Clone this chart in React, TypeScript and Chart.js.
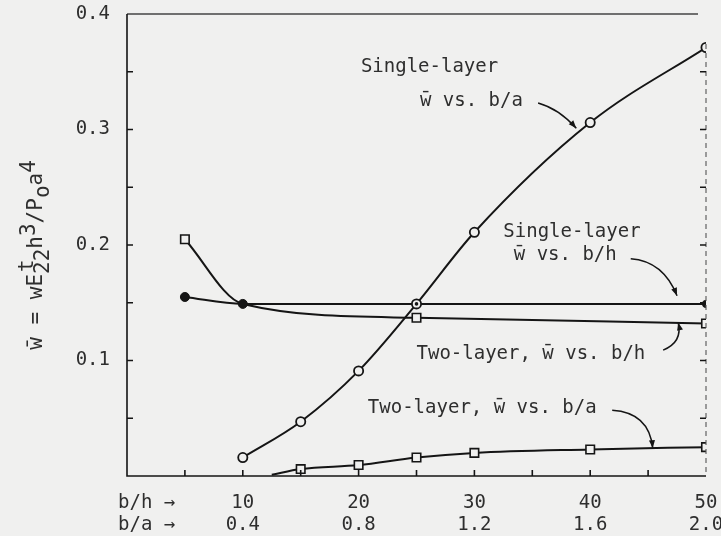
import React, { useEffect, useRef } from 'react';
import { Chart, registerables } from 'chart.js';

Chart.register(...registerables);

// ---- data ----
const singleBA_x = [10, 15, 20, 25, 30, 40, 50];
const singleBA_y = [0.016, 0.047, 0.091, 0.149, 0.211, 0.306, 0.371];

const singleBH_x = [5, 10, 25, 50];
const singleBH_y = [0.155, 0.149, 0.149, 0.149];

const twoBH_x = [5, 10, 25, 50];
const twoBH_y = [0.205, 0.149, 0.137, 0.132];

const twoBA_x = [12.5, 15, 20, 25, 30, 40, 50];
const twoBA_y = [0.001, 0.006, 0.0095, 0.016, 0.02, 0.023, 0.025];

const bhTickLabels = ['10', '20', '30', '40', '50'];
const baTickLabels = ['0.4', '0.8', '1.2', '1.6', '2.0'];
const yTickLabels = ['0.1', '0.2', '0.3', '0.4'];

const noteTexts = ['Single-layer', 'w\u0304 vs. b/a', 'Single-layer', 'w\u0304 vs. b/h', 'Two-layer, w\u0304 vs. b/h', 'Two-layer, w\u0304 vs. b/a'];
const noteX = [20.2, 25.3, 32.5, 33.4, 25.0, 20.8];
const noteY = [0.354, 0.325, 0.211, 0.191, 0.106, 0.059];

// arrows: start, control, tip (data units)
const arrowStart = [[35.5, 0.323], [43.5, 0.188], [46.3, 0.109], [41.9, 0.057]];
const arrowCtrl = [[37.3, 0.318], [46.3, 0.186], [48.0, 0.116], [45.1, 0.055]];
const arrowTip = [[38.8, 0.301], [47.5, 0.156], [47.6, 0.133], [45.4, 0.024]];

const BG = '#f0f0ef';
const INK = '#151515';
const TXT = '#2e2e2e';
const FONT = '"DejaVu Sans Mono", "Liberation Mono", monospace';
const FS = 19;

const toPts = (xs: number[], ys: number[]) => xs.map((x, i) => ({ x, y: ys[i] }));

const framePlugin = {
  id: 'frame',
  beforeDraw(chart: any) {
    const { ctx, width, height } = chart;
    ctx.save();
    ctx.fillStyle = BG;
    ctx.fillRect(0, 0, width, height);
    ctx.restore();
  },
  afterDraw(chart: any) {
    const { ctx, chartArea: a, scales } = chart;
    const xs = scales.x;
    const ys = scales.y;
    ctx.save();
    // top (light)
    ctx.strokeStyle = '#444';
    ctx.lineWidth = 1.3;
    ctx.beginPath();
    ctx.moveTo(a.left, a.top);
    ctx.lineTo(a.right - 8, a.top);
    ctx.stroke();
    // left, bottom solid
    ctx.strokeStyle = INK;
    ctx.lineWidth = 1.6;
    ctx.beginPath();
    ctx.moveTo(a.left, a.top);
    ctx.lineTo(a.left, a.bottom);
    ctx.lineTo(a.right, a.bottom);
    ctx.stroke();
    // right dashed
    ctx.save();
    ctx.strokeStyle = '#555';
    ctx.lineWidth = 1.1;
    ctx.setLineDash([5, 4]);
    ctx.beginPath();
    ctx.moveTo(a.right, a.top + 30);
    ctx.lineTo(a.right, a.bottom);
    ctx.stroke();
    ctx.restore();
    // inward ticks
    ctx.lineWidth = 1.6;
    ys.ticks.forEach((t: any) => {
      const v = Math.round(t.value * 100);
      if (v <= 0 || v >= 40) return;
      const py = ys.getPixelForValue(t.value);
      ctx.beginPath();
      ctx.moveTo(a.left, py);
      ctx.lineTo(a.left + 6, py);
      ctx.moveTo(a.right, py);
      ctx.lineTo(a.right - 6, py);
      ctx.stroke();
    });
    xs.ticks.forEach((t: any) => {
      if (t.value <= 0 || t.value >= 50) return;
      const px = xs.getPixelForValue(t.value);
      ctx.beginPath();
      ctx.moveTo(px, a.bottom);
      ctx.lineTo(px, a.bottom - 6);
      ctx.stroke();
    });

    // dot inside shared circle (single-layer b/a at b/h = 25)
    const meta = chart.getDatasetMeta(0);
    const el = meta.data[3];
    if (el) {
      ctx.fillStyle = INK;
      ctx.beginPath();
      ctx.arc(el.x, el.y, 1.8, 0, Math.PI * 2);
      ctx.fill();
    }

    // axis row captions
    ctx.fillStyle = TXT;
    ctx.font = `${FS}px ${FONT}`;
    ctx.textAlign = 'left';
    ctx.textBaseline = 'middle';
    const lh = FS * 1.15;
    const row1 = a.bottom + 16 + lh * 0.5;
    ctx.fillText('b/h \u2192', a.left - 9, row1);
    ctx.fillText('b/a \u2192', a.left - 9, row1 + lh);

    // annotations
    noteTexts.forEach((t, i) => {
      ctx.fillText(t, xs.getPixelForValue(noteX[i]), ys.getPixelForValue(noteY[i]));
    });

    // arrows
    ctx.strokeStyle = INK;
    ctx.fillStyle = INK;
    ctx.lineWidth = 1.5;
    arrowStart.forEach((s, i) => {
      const sx = xs.getPixelForValue(s[0]);
      const sy = ys.getPixelForValue(s[1]);
      const cx = xs.getPixelForValue(arrowCtrl[i][0]);
      const cy = ys.getPixelForValue(arrowCtrl[i][1]);
      const tx = xs.getPixelForValue(arrowTip[i][0]);
      const ty = ys.getPixelForValue(arrowTip[i][1]);
      ctx.beginPath();
      ctx.moveTo(sx, sy);
      ctx.quadraticCurveTo(cx, cy, tx, ty);
      ctx.stroke();
      const ang = Math.atan2(ty - cy, tx - cx);
      const L = 8, W = 3;
      ctx.beginPath();
      ctx.moveTo(tx, ty);
      ctx.lineTo(tx - L * Math.cos(ang) + W * Math.sin(ang), ty - L * Math.sin(ang) - W * Math.cos(ang));
      ctx.lineTo(tx - L * Math.cos(ang) - W * Math.sin(ang), ty - L * Math.sin(ang) + W * Math.cos(ang));
      ctx.closePath();
      ctx.fill();
    });

    // y-axis title (rotated, typewriter-style half-line sub/superscripts)
    const tf = `21px ${FONT}`;
    type Piece = { t: string; dv: number; stackSup?: string };
    const pieces: Piece[] = [
      { t: 'w\u0304 = wE', dv: 0 },
      { t: '22', dv: 7, stackSup: 't' },
      { t: 'h', dv: 0 },
      { t: '3', dv: -7 },
      { t: '/P', dv: 0 },
      { t: 'o', dv: 7 },
      { t: 'a', dv: 0 },
      { t: '4', dv: -7 },
    ];
    ctx.font = tf;
    let total = 0;
    const widths = pieces.map((p) => {
      const w = ctx.measureText(p.t).width;
      total += w;
      return w;
    });
    const cxT = 37;
    const cyT = 255;
    ctx.save();
    ctx.translate(cxT, cyT);
    ctx.rotate(-Math.PI / 2);
    ctx.fillStyle = TXT;
    ctx.textBaseline = 'middle';
    ctx.textAlign = 'left';
    let u = -total / 2;
    pieces.forEach((p, i) => {
      ctx.fillText(p.t, u, p.dv);
      if (p.stackSup) ctx.fillText(p.stackSup, u + 2, -9);
      u += widths[i];
    });
    ctx.restore();

    ctx.restore();
  },
};

export default function App() {
  const ref = useRef<HTMLCanvasElement | null>(null);

  useEffect(() => {
    if (!ref.current) return;
    const openBg = BG;
    const chart = new Chart(ref.current, {
      type: 'line',
      data: {
        datasets: [
          {
            label: 'Single-layer, w vs. b/a',
            data: toPts(singleBA_x, singleBA_y),
            borderColor: INK,
            borderWidth: 2,
            cubicInterpolationMode: 'monotone',
            pointStyle: 'circle',
            pointRadius: 4.6,
            pointBorderWidth: 1.8,
            pointBorderColor: INK,
            pointBackgroundColor: openBg,
            fill: false,
          },
          {
            label: 'Single-layer, w vs. b/h',
            data: toPts(singleBH_x, singleBH_y),
            borderColor: INK,
            borderWidth: 2,
            cubicInterpolationMode: 'monotone',
            pointStyle: 'circle',
            pointRadius: [4.5, 4.5, 0, 3.6],
            pointBorderWidth: 1,
            pointBorderColor: INK,
            pointBackgroundColor: INK,
            fill: false,
          },
          {
            label: 'Two-layer, w vs. b/h',
            data: toPts(twoBH_x, twoBH_y),
            borderColor: INK,
            borderWidth: 2,
            cubicInterpolationMode: 'monotone',
            pointStyle: 'rect',
            pointRadius: [6, 0, 6, 6],
            pointBorderWidth: 1.6,
            pointBorderColor: INK,
            pointBackgroundColor: openBg,
            fill: false,
          },
          {
            label: 'Two-layer, w vs. b/a',
            data: toPts(twoBA_x, twoBA_y),
            borderColor: INK,
            borderWidth: 2,
            cubicInterpolationMode: 'monotone',
            pointStyle: 'rect',
            pointRadius: [0, 6, 6, 6, 6, 6, 6],
            pointBorderWidth: 1.6,
            pointBorderColor: INK,
            pointBackgroundColor: openBg,
            fill: false,
          },
        ],
      },
      options: {
        animation: false,
        responsive: true,
        maintainAspectRatio: false,
        layout: { padding: { top: 14, left: 0, right: 0, bottom: 0 } },
        plugins: { legend: { display: false }, tooltip: { enabled: false } },
        scales: {
          x: {
            type: 'linear',
            min: 0,
            max: 50,
            grid: { display: false, drawTicks: false },
            border: { display: false },
            ticks: {
              stepSize: 5,
              autoSkip: false,
              maxRotation: 0,
              padding: 16,
              color: TXT,
              font: { family: FONT, size: FS, lineHeight: 1.15 },
              callback: (v: any) => {
                const i = bhTickLabels.indexOf(String(Math.round(Number(v))));
                if (Math.round(Number(v)) % 10 !== 0 || i < 0) return '';
                return [bhTickLabels[i], baTickLabels[i]];
              },
            },
            afterFit: (s: any) => {
              s.height = 60;
              s.paddingLeft = 0;
              s.paddingRight = 0;
            },
          },
          y: {
            type: 'linear',
            min: 0,
            max: 0.4,
            grid: { display: false, drawTicks: false },
            border: { display: false },
            ticks: {
              stepSize: 0.05,
              autoSkip: false,
              padding: 17,
              color: TXT,
              font: { family: FONT, size: FS },
              callback: (v: any) => {
                const k = Math.round(Number(v) * 100);
                if (k === 0 || k % 10 !== 0) return '';
                return yTickLabels[k / 10 - 1];
              },
            },
            afterFit: (s: any) => {
              s.width = 127;
              s.paddingTop = 0;
              s.paddingBottom = 0;
            },
          },
          y2: {
            type: 'linear',
            position: 'right',
            min: 0,
            max: 0.4,
            grid: { display: false, drawTicks: false },
            border: { display: false },
            ticks: { display: false },
            afterFit: (s: any) => {
              s.width = 15;
              s.paddingTop = 0;
              s.paddingBottom = 0;
            },
          },
        },
      },
      plugins: [framePlugin],
    } as any);
    return () => chart.destroy();
  }, []);

  return (
    <div style={{ position: 'absolute', left: 0, top: 0, width: 721, height: 536, background: BG }}>
      <canvas ref={ref} />
    </div>
  );
}
